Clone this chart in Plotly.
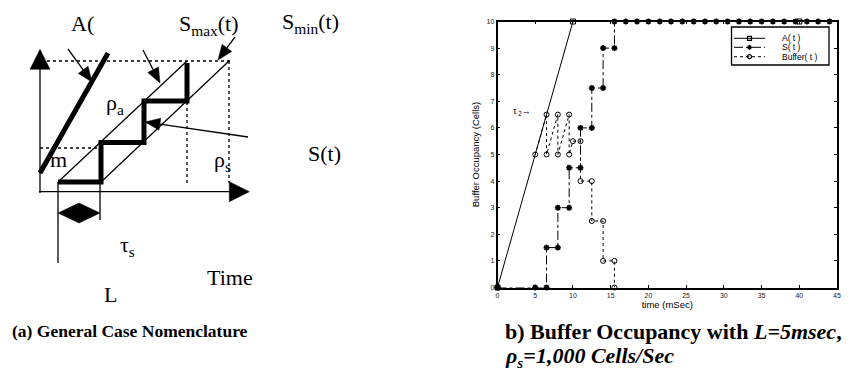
import numpy as np
import plotly.graph_objects as go

# ---------------- panel (b) data ----------------
A_time = [0, 10, 40]
A_cells = [0, 10, 10]
S_time = [0, 5, 6.5, 6.5, 8, 8, 9.5, 9.5, 11, 11, 12.5, 12.5, 14, 14, 15.5, 15.5,
          17, 18.5, 20, 21.5, 23, 24.5, 26, 27.5, 29, 30.5, 32, 33.5, 35, 36.5,
          38, 39.5, 41, 42.5, 44]
S_cells = [0, 0, 0, 1.5, 1.5, 3, 3, 4.5, 4.5, 6, 6, 7.5, 7.5, 9, 9, 10,
           10, 10, 10, 10, 10, 10, 10, 10, 10, 10, 10, 10, 10, 10,
           10, 10, 10, 10, 10]
Buffer_time = [5, 6.5, 6.5, 8, 8, 9.5, 9.5, 10, 11, 11, 12.5, 12.5, 14, 14, 15.5, 15.5]
Buffer_cells = [5, 6.5, 5, 6.5, 5, 6.5, 5, 5.5, 5.5, 4, 4, 2.5, 2.5, 1, 1, 0]
x_ticks = [0, 5, 10, 15, 20, 25, 30, 35, 40, 45]
y_ticks = [0, 1, 2, 3, 4, 5, 6, 7, 8, 9, 10]
series_names = ["A( t )", "S( t )", "Buffer( t )"]

# ---------------- panel (a) schematic geometry (diagram units) ----------------
thin_lines = [
    [(40, 193), (40, 66)],            # vertical axis
    [(39, 191.7), (232, 191.7)],      # horizontal axis
    [(58, 182), (187, 61)],           # S_max(t) ramp
    [(100, 183), (229, 61)],          # S_min(t) ramp
    [(58, 182), (58, 263)],           # L marker
    [(100, 184), (100, 220)],         # tau_s marker
]
dotted_lines = [
    [(47, 61), (230, 61)],
    [(40, 148), (100, 148)],
    [(187, 102), (187, 183)],
    [(229, 61), (229, 183)],
]
thick_lines = [
    [(40, 173), (108, 53)],           # A(t)
    [(58, 182), (101, 182), (101, 142.5), (144, 142.5), (144, 101),
     (187, 101), (187, 63)],          # S(t) staircase
]
solid_polys = [
    [(30, 69.3), (50, 69.3), (40, 49.3)],       # y-axis head
    [(229.3, 181.7), (229.3, 201.7), (249.3, 191.7)],  # x-axis head
    [(58, 213), (79, 203), (100, 213), (79, 223)],     # double arrow
]
pointer_arrows = [  # (tail, tip)
    [(68, 49), (92, 82)],
    [(143, 50), (160, 83)],
    [(235, 37), (218, 60)],
    [(248, 137), (145, 122)],
]
diagram_labels = [
    ("A(", 82, 23), ("S<sub>max</sub>(t)", 209, 25), ("S<sub>min</sub>(t)", 310, 23),
    ("ρ<sub>a</sub>", 115, 104), ("m", 58, 159), ("ρ<sub>s</sub>", 222, 161),
    ("S(t)", 324, 153), ("τ<sub>s</sub>", 127, 246), ("Time", 230, 277), ("L", 110, 294),
]

SERIF = "Liberation Serif"
SANS = "Liberation Sans"

fig = go.Figure()

def poly_trace(pts, width, dash="solid", fill=False):
    xs = [p[0] for p in pts]
    ys = [p[1] for p in pts]
    if fill:
        xs = xs + [xs[0]]
        ys = ys + [ys[0]]
        return go.Scatter(x=xs, y=ys, mode="lines", fill="toself", fillcolor="black",
                          line=dict(color="black", width=0.5), hoverinfo="skip",
                          showlegend=False, xaxis="x", yaxis="y")
    return go.Scatter(x=xs, y=ys, mode="lines", line=dict(color="black", width=width, dash=dash),
                      hoverinfo="skip", showlegend=False, xaxis="x", yaxis="y")

for pl in thin_lines:
    fig.add_trace(poly_trace(pl, 1.3))
for pl in dotted_lines:
    fig.add_trace(poly_trace(pl, 1.3, dash="dot"))
for pl in thick_lines:
    fig.add_trace(poly_trace(pl, 5))
for pg in solid_polys:
    fig.add_trace(poly_trace(pg, 1, fill=True))

HEAD_LEN, HEAD_HALF = 15, 6
for tail, tip in pointer_arrows:
    t = np.array(tail, float)
    p = np.array(tip, float)
    d = (p - t) / np.linalg.norm(p - t)
    n = np.array([-d[1], d[0]])
    base = p - d * HEAD_LEN
    fig.add_trace(poly_trace([tuple(t), tuple(base)], 1.3))
    fig.add_trace(poly_trace([tuple(p), tuple(base + n * HEAD_HALF), tuple(base - n * HEAD_HALF)], 1, fill=True))

# ---------------- chart traces ----------------
fig.add_trace(go.Scatter(x=A_time, y=A_cells, mode="lines+markers", name=series_names[0],
                         line=dict(color="black", width=1),
                         marker=dict(symbol="square-open", size=5, color="black", line=dict(width=1)),
                         cliponaxis=False, showlegend=False, xaxis="x2", yaxis="y2"))
fig.add_trace(go.Scatter(x=S_time, y=S_cells, mode="lines+markers", name=series_names[1],
                         line=dict(color="black", width=1, dash="dashdot"),
                         marker=dict(symbol="asterisk-open", size=5, color="black", line=dict(width=1.6, color="black")),
                         cliponaxis=False, showlegend=False, xaxis="x2", yaxis="y2"))
fig.add_trace(go.Scatter(x=Buffer_time, y=Buffer_cells, mode="lines+markers", name=series_names[2],
                         line=dict(color="black", width=1, dash="dot"),
                         marker=dict(symbol="circle-open", size=5, color="black", line=dict(width=1)),
                         cliponaxis=False, showlegend=False, xaxis="x2", yaxis="y2"))

# ---------------- manual legend (diagram units = pixels) ----------------
leg_rows = [38.3, 47.3, 56.7]
leg_styles = [("solid", "square-open"), ("dashdot", "asterisk-open"), ("dot", "circle-open")]
for yy, (dash, sym), nm in zip(leg_rows, leg_styles, series_names):
    fig.add_trace(go.Scatter(x=[734, 765], y=[yy, yy], mode="lines", line=dict(color="black", width=1, dash=dash),
                             hoverinfo="skip", showlegend=False, xaxis="x", yaxis="y"))
    fig.add_trace(go.Scatter(x=[749.5], y=[yy], mode="markers",
                             marker=dict(symbol=sym, size=4, color="black", line=dict(width=1.2, color="black")),
                             hoverinfo="skip", showlegend=False, xaxis="x", yaxis="y"))

shapes = [dict(type="rect", xref="x", yref="y", x0=731.5, x1=829, y0=27, y1=65,
               line=dict(color="black", width=1.3))]

annotations = []
for txt, xx, yy in diagram_labels:
    annotations.append(dict(text=txt, x=xx, y=yy, xref="x", yref="y", showarrow=False,
                            xanchor="center", yanchor="middle",
                            font=dict(family=SERIF, size=22, color="black")))
for yy, nm in zip(leg_rows, series_names):
    annotations.append(dict(text=nm, x=780, y=yy, xref="x", yref="y", showarrow=False,
                            xanchor="left", yanchor="middle",
                            font=dict(family=SANS, size=8.5, color="black")))
annotations.append(dict(text="τ<sub> 2</sub>→", x=3.2, y=6.6, xref="x2", yref="y2", showarrow=False,
                        xanchor="center", yanchor="middle", font=dict(family=SANS, size=9, color="black")))
annotations.append(dict(text="<b>(a) General Case Nomenclature</b>", x=10, y=331, xref="x", yref="y",
                        showarrow=False, xanchor="left", yanchor="middle",
                        font=dict(family=SERIF, size=17.5, color="black")))
annotations.append(dict(text="<b>b) Buffer Occupancy with <i>L=5msec</i>,</b>", x=503, y=331, xref="x", yref="y",
                        showarrow=False, xanchor="left", yanchor="middle",
                        font=dict(family=SERIF, size=22, color="black")))
annotations.append(dict(text="<b><i>ρ<sub>s</sub>=1,000 Cells/Sec</i></b>", x=503, y=357, xref="x", yref="y",
                        showarrow=False, xanchor="left", yanchor="middle",
                        font=dict(family=SERIF, size=22, color="black")))

W, H = 858, 391
fig.update_layout(
    width=W, height=H, margin=dict(l=0, r=0, t=0, b=0, autoexpand=False),
    paper_bgcolor="white", plot_bgcolor="rgba(0,0,0,0)",
    showlegend=False,
    xaxis=dict(domain=[0, 1], range=[0, W], visible=False, fixedrange=True, automargin=False),
    yaxis=dict(domain=[0, 1], range=[H, 0], visible=False, fixedrange=True, automargin=False),
    xaxis2=dict(domain=[497.5 / W, 837 / W], range=[0, 45], anchor="y2", automargin=False,
                tickvals=x_ticks, ticks="inside", ticklen=3, tickcolor="black",
                showline=True, linecolor="black", linewidth=1.5, mirror="allticks",
                showgrid=False, zeroline=False,
                tickfont=dict(family=SANS, size=7, color="#222"),
                title=dict(text="time (mSec)", font=dict(family=SANS, size=9.5, color="black"), standoff=2)),
    yaxis2=dict(domain=[(H - 287.5) / H, (H - 21.5) / H], range=[0, 10], anchor="x2", automargin=False,
                tickvals=y_ticks, ticks="inside", ticklen=3, tickcolor="black",
                showline=True, linecolor="black", linewidth=1.5, mirror="allticks",
                showgrid=False, zeroline=False,
                tickfont=dict(family=SANS, size=7, color="#222"),
                title=dict(text="Buffer Occupancy (Cells)", font=dict(family=SANS, size=9.5, color="black"), standoff=5)),
    shapes=shapes, annotations=annotations,
)

fig.write_html("out.html", config={"displayModeBar": False},
               post_script="document.body.style.margin='0';")
